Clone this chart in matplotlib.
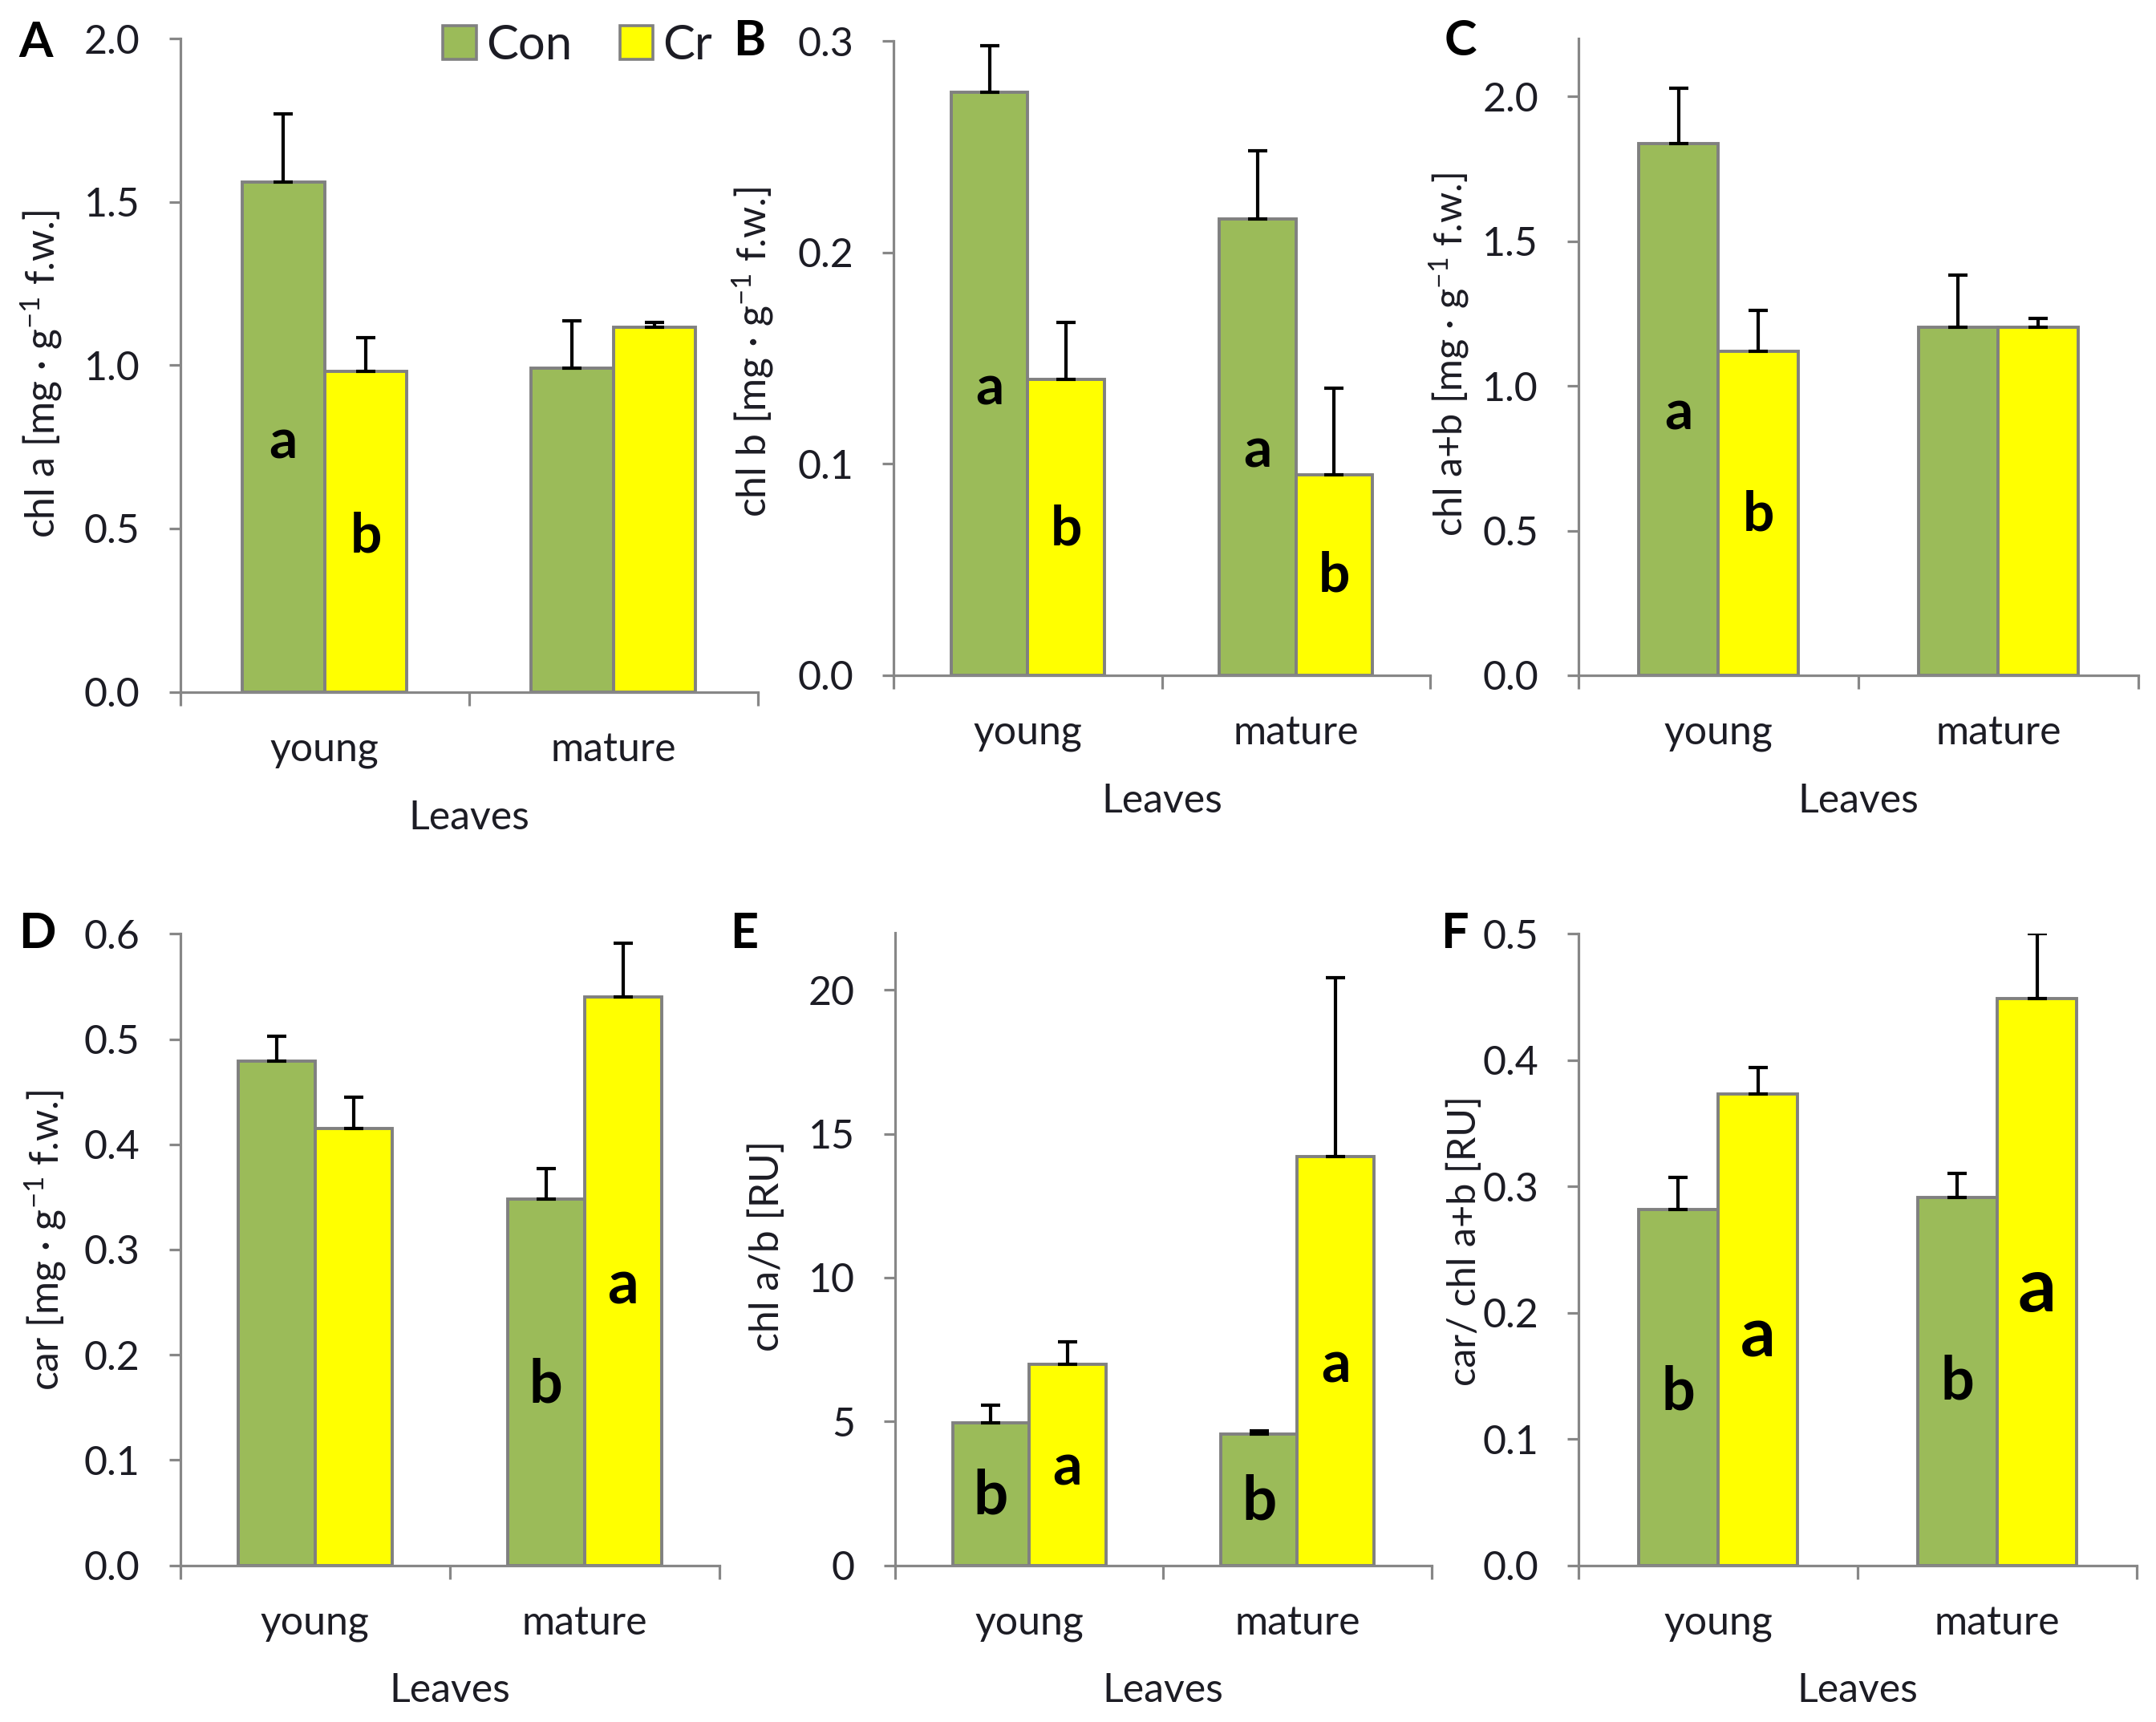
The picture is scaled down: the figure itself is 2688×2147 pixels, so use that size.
import matplotlib
matplotlib.use("Agg")
import matplotlib.pyplot as plt
from matplotlib.patches import Patch
import numpy as np

plt.rcParams['font.family'] = ['Lato', 'DejaVu Sans']
plt.rcParams['mathtext.fontset'] = 'custom'
plt.rcParams['mathtext.rm'] = 'Lato'
plt.rcParams['mathtext.it'] = 'Lato:italic'
plt.rcParams['mathtext.bf'] = 'Lato:bold'

# ---------------- data ----------------
categories = ['young', 'mature']
series_names = ['Con', 'Cr']

chla_con = [1.56, 0.99]
chla_con_err = [0.21, 0.145]
chla_cr = [0.98, 1.115]
chla_cr_err = [0.105, 0.015]

chlb_con = [0.276, 0.216]
chlb_con_err = [0.022, 0.032]
chlb_cr = [0.140, 0.095]
chlb_cr_err = [0.027, 0.041]

chlab_con = [1.836, 1.203]
chlab_con_err = [0.192, 0.181]
chlab_cr = [1.120, 1.203]
chlab_cr_err = [0.140, 0.031]

car_con = [0.479, 0.348]
car_con_err = [0.024, 0.029]
car_cr = [0.415, 0.540]
car_cr_err = [0.030, 0.051]

ratio_con = [4.95, 4.57]
ratio_con_err = [0.62, 0.11]
ratio_cr = [7.0, 14.2]
ratio_cr_err = [0.77, 6.23]

carchl_con = [0.282, 0.291]
carchl_con_err = [0.025, 0.019]
carchl_cr = [0.373, 0.449]
carchl_cr_err = [0.021, 0.051]

ylabels = [
    r'chl a [mg · g$^{-1}$ f.w.]',
    r'chl b [mg · g$^{-1}$ f.w.]',
    r'chl a+b [mg · g$^{-1}$ f.w.]',
    r'car [mg · g$^{-1}$ f.w.]',
    'chl a/b [RU]',
    'car/ chl a+b [RU]',
]
panel_letters = ['A', 'B', 'C', 'D', 'E', 'F']
xlabel = 'Leaves'

# significance letters: (category index, series index, letter)
sig_letters = [
    [(0, 0, 'a'), (0, 1, 'b')],
    [(0, 0, 'a'), (0, 1, 'b'), (1, 0, 'a'), (1, 1, 'b')],
    [(0, 0, 'a'), (0, 1, 'b')],
    [(1, 0, 'b'), (1, 1, 'a')],
    [(0, 0, 'b'), (0, 1, 'a'), (1, 0, 'b'), (1, 1, 'a')],
    [(0, 0, 'b'), (0, 1, 'a'), (1, 0, 'b'), (1, 1, 'a')],
]

# ---------------- layout / style ----------------
GREEN = '#9BBB59'
YELLOW = '#FFFF00'
EDGE = '#808080'
AXC = '#878787'
TXT = '#1c1c24'

panel_data = [
    (chla_con, chla_con_err, chla_cr, chla_cr_err),
    (chlb_con, chlb_con_err, chlb_cr, chlb_cr_err),
    (chlab_con, chlab_con_err, chlab_cr, chlab_cr_err),
    (car_con, car_con_err, car_cr, car_cr_err),
    (ratio_con, ratio_con_err, ratio_cr, ratio_cr_err),
    (carchl_con, carchl_con_err, carchl_cr, carchl_cr_err),
]
W, H = 1568.0, 1252.0
# left, right, top, bottom in reference display pixels
boxes = [
    (131, 551, 28, 503),
    (650, 1040, 30, 491),
    (1148, 1555, 28, 491),
    (131, 523, 679, 1138),
    (651, 1041, 678, 1138),
    (1148, 1554, 679, 1138),
]
ylims = [2.0, 0.3, 2.2, 0.6, 22, 0.5]
yticks = [np.arange(0, 2.01, 0.5), np.arange(0, 0.301, 0.1), np.arange(0, 2.01, 0.5),
          np.arange(0, 0.601, 0.1), np.arange(0, 20.1, 5), np.arange(0, 0.501, 0.1)]
yfmt = ['%.1f', '%.1f', '%.1f', '%.1f', '%d', '%.1f']
ylabel_pos = [(-0.24, 0.486), (-0.262, 0.51), (-0.232, 0.503),
              (-0.25, 0.514), (-0.238, 0.504), (-0.205, 0.514)]
letter_pos = [(26, 31), (545, 30), (1062, 30), (27, 679), (541, 679), (1058, 679)]
sig_y = [
    [0.762, 0.476],
    [0.1354, 0.069, 0.106, 0.0469],
    [0.902, 0.554],
    [0.171, 0.265],
    [2.39, 3.35, 2.20, 6.94],
    [0.137, 0.181, 0.145, 0.218],
]
sig_size = [
    [50, 50],
    [50, 50, 50, 50],
    [50, 50],
    [53, 55],
    [55, 52, 55, 52],
    [53, 62, 53, 68],
]

fig = plt.figure(figsize=(26.88, 21.47), dpi=100)

bw = 1 / 3.5
ALW = 2.3

for i in range(6):
    l, r, t, b = boxes[i]
    ax = fig.add_axes([l / W, 1 - b / H, (r - l) / W, (b - t) / H])
    con, con_e, cr, cr_e = panel_data[i]
    xc = np.arange(len(categories)) + 0.5
    x_con = xc - bw / 2
    x_cr = xc + bw / 2
    ax.bar(x_con, con, width=bw, color=GREEN, edgecolor=EDGE, linewidth=2.8, zorder=2)
    ax.bar(x_cr, cr, width=bw, color=YELLOW, edgecolor=EDGE, linewidth=2.8, zorder=2)
    ax.errorbar(x_con, con, yerr=[np.zeros(len(con)), con_e], fmt='none', ecolor='black',
                elinewidth=3.0, capsize=8.5, capthick=3.0, zorder=3)
    ax.errorbar(x_cr, cr, yerr=[np.zeros(len(cr)), cr_e], fmt='none', ecolor='black',
                elinewidth=3.0, capsize=8.5, capthick=3.0, zorder=3)

    ax.set_xlim(0, 2)
    ax.set_ylim(0, ylims[i])
    ax.set_yticks(yticks[i])
    ax.set_yticklabels([yfmt[i] % v for v in yticks[i]])
    ax.set_xticks([0, 1, 2])
    ax.set_xticklabels([])
    for s in ['top', 'right']:
        ax.spines[s].set_visible(False)
    for s in ['left', 'bottom']:
        ax.spines[s].set_color(AXC)
        ax.spines[s].set_linewidth(ALW)
    ax.tick_params(axis='y', direction='out', length=10, width=ALW, color=AXC,
                   pad=26, labelsize=36, labelcolor=TXT)
    ax.tick_params(axis='x', direction='out', length=12, width=ALW, color=AXC)
    ax.set_facecolor('none')

    for k, cat in enumerate(categories):
        ax.annotate(cat, xy=(xc[k], 0), xycoords=('data', 'axes fraction'),
                    xytext=(0, -52), textcoords='offset points', ha='center', va='center',
                    fontsize=36, color=TXT)
    ax.annotate(xlabel, xy=(0.5, 0), xycoords='axes fraction', xytext=(0, -113),
                textcoords='offset points', ha='center', va='center', fontsize=36, color=TXT)

    ax.text(ylabel_pos[i][0], ylabel_pos[i][1], ylabels[i], rotation=90, ha='center',
            va='center', transform=ax.transAxes, fontsize=35 if i in (2, 5) else 36,
            color=TXT)

    for (ci, si, let), yy, fs in zip(sig_letters[i], sig_y[i], sig_size[i]):
        xx = x_con[ci] if si == 0 else x_cr[ci]
        ax.text(xx, yy, let, ha='center', va='center', fontsize=fs, fontweight='bold',
                color='black', zorder=4)

    px, py = letter_pos[i]
    fig.text(px / W, 1 - py / H, panel_letters[i], ha='center', va='center',
             fontsize=44, fontweight='bold', color='black')

    if i == 0:
        handles = [Patch(facecolor=GREEN, edgecolor=EDGE, linewidth=2.6),
                   Patch(facecolor=YELLOW, edgecolor=EDGE, linewidth=2.6)]
        fig.legend(handles, series_names, loc='center right',
                   bbox_to_anchor=(518 / W, 1 - 33 / H), ncol=2, frameon=False,
                   fontsize=43, handlelength=0.7, handleheight=0.7,
                   handletextpad=0.2, columnspacing=1.0, borderpad=0, borderaxespad=0,
                   labelcolor=TXT)

fig.savefig('out.png', dpi=100, facecolor='white')
